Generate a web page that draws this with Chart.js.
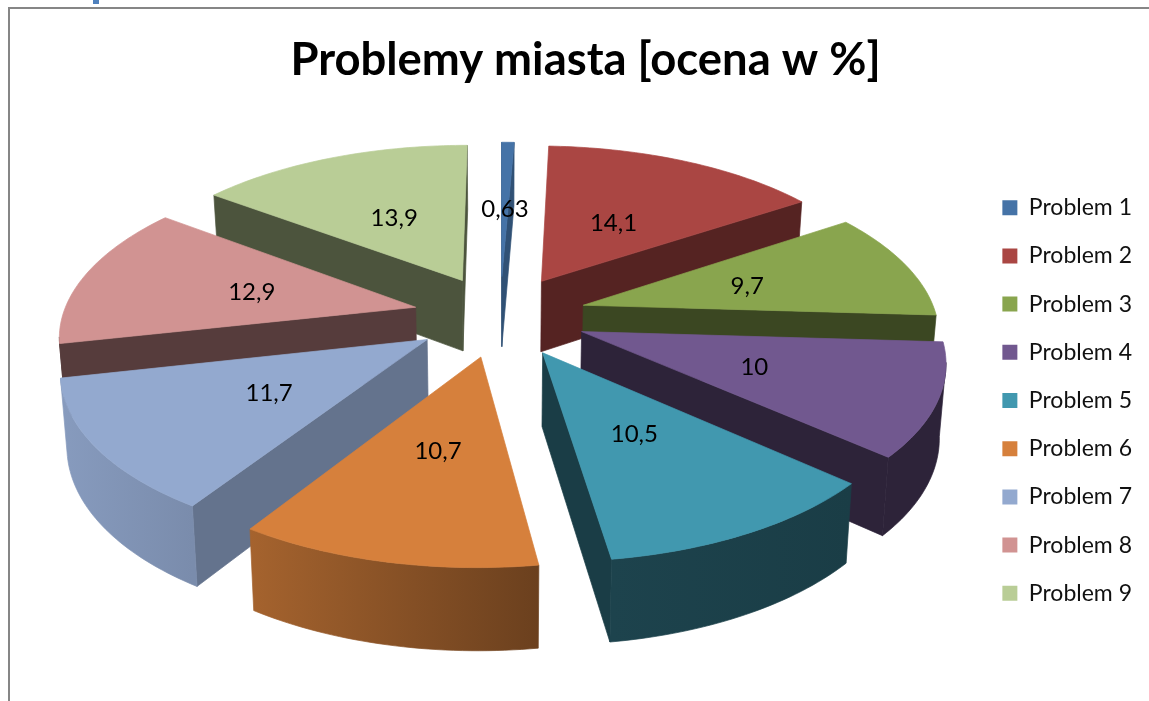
<!DOCTYPE html>
<html>
<head>
<meta charset="utf-8">
<title>Problemy miasta</title>
<script src="https://cdn.jsdelivr.net/npm/chart.js@4"></script>
<style>
  html, body { margin: 0; padding: 0; background: #fff; overflow: hidden; }
  #wrap { position: relative; width: 1149px; height: 701px; }
  #frame { position: absolute; left: 8px; top: 7px; right: 0; bottom: 0; border-left: 2px solid #868686; border-top: 2px solid #868686; }
  #heading { position: absolute; left: 93px; top: 0; width: 6px; height: 4px; background: #4f81bd; }
  canvas { position: absolute; left: 0; top: 0; }
</style>
</head>
<body>
<div id="wrap">
  <div id="heading"></div>
  <div id="frame"></div>
  <canvas id="chart" width="1149" height="701"></canvas>
</div>
<script>
const categories = ["Problem 1", "Problem 2", "Problem 3", "Problem 4", "Problem 5", "Problem 6", "Problem 7", "Problem 8", "Problem 9"];
const values = [0.63, 14.1, 9.7, 10, 10.5, 10.7, 11.7, 12.9, 13.9];
const colors = ["#4573a7", "#aa4643", "#89a54e", "#71588f", "#4198af", "#d6803c", "#93a9cf", "#d19392", "#b9cd96"];

// how dark the cut faces and rim of each slice are (fraction of slice colour)
const faceShade = [0.7, 0.5, 0.43, 0.4, 0.4, 0.5, 0.68, 0.41, 0.41];
const rimShade = [[0.7, 0.7], [0.5, 0.5], [0.43, 0.43], [0.4, 0.4], [0.4, 0.44], [0.5, 0.77], [0.83, 0.92], [0.41, 0.41], [0.41, 0.41]];
// label distance along the slice, as part of the radius
const labelAt = [0.48, 0.47, 0.5, 0.5, 0.48, 0.49, 0.5, 0.49, 0.49];

const FONT = "Lato, Carlito, sans-serif";
const TILT = 0.468;
const PERSPECTIVE = 0.15;
const DEPTH = 72;
const LIFT = 85;

function shade(hex, k) {
  const n = parseInt(hex.slice(1), 16);
  return `rgb(${Math.round((n >> 16) * k)},${Math.round(((n >> 8) & 255) * k)},${Math.round((n & 255) * k)})`;
}

function project(arc, u, v, down) {
  const f = 1 / (1 - PERSPECTIVE * v / arc.outerRadius);
  const squeeze = down ? 0.985 : 1;
  return {
    x: arc.x + u * f * squeeze,
    y: arc.y - LIFT + v * TILT * f + (down ? DEPTH * Math.pow(f, 0.7) : 0),
  };
}

function poly(ctx, pts, fill) {
  ctx.beginPath();
  pts.forEach((p, i) => (i ? ctx.lineTo(p.x, p.y) : ctx.moveTo(p.x, p.y)));
  ctx.closePath();
  ctx.fillStyle = fill;
  ctx.strokeStyle = fill;
  ctx.lineWidth = 0.7; // closes the hairline between neighbouring walls
  ctx.fill();
  ctx.stroke();
}

function sliceOutline(arc) {
  const mid = (arc.startAngle + arc.endAngle) / 2;
  const ox = Math.cos(mid) * arc.options.offset;
  const oy = Math.sin(mid) * arc.options.offset;
  const steps = Math.max(2, Math.ceil((arc.endAngle - arc.startAngle) / 0.02));
  const pts = [{ u: ox, v: oy }];
  for (let s = 0; s <= steps; s++) {
    const a = arc.startAngle + ((arc.endAngle - arc.startAngle) * s) / steps;
    pts.push({ u: ox + Math.cos(a) * arc.outerRadius, v: oy + Math.sin(a) * arc.outerRadius });
  }
  return pts;
}

function drawSlice(ctx, arc, i) {
  const pts = sliceOutline(arc);
  const top = pts.map((p) => project(arc, p.u, p.v, false));
  const bottom = pts.map((p) => project(arc, p.u, p.v, true));
  const n = pts.length;

  // the two cut faces, only when they look towards us
  if (top[1].x < top[0].x) poly(ctx, [top[0], top[1], bottom[1], bottom[0]], shade(colors[i], faceShade[i]));
  if (top[0].x < top[n - 1].x) poly(ctx, [top[n - 1], top[0], bottom[0], bottom[n - 1]], shade(colors[i], faceShade[i]));

  // the visible run of the rim, as one piece with a sideways gradient
  let first = -1;
  let last = -1;
  for (let k = 1; k < n - 1; k++) {
    if (top[k + 1].x < top[k].x) {
      if (first < 0) first = k;
      last = k + 1;
    }
  }
  if (first > 0) {
    const run = top.slice(first, last + 1).concat(bottom.slice(first, last + 1).reverse());
    const [from, to] = rimShade[i];
    const at = (k) => from + ((to - from) * (k - 1)) / (n - 2);
    const grad = ctx.createLinearGradient(top[first].x, 0, top[last].x, 0);
    grad.addColorStop(0, shade(colors[i], at(first)));
    grad.addColorStop(1, shade(colors[i], at(last)));
    poly(ctx, run, grad);
  }

  poly(ctx, top, colors[i]);
}

const pie3d = {
  id: "pie3d",
  afterLayout(chart) {
    chart.legend.left -= 7;
    chart.legend.right -= 7;
    chart.legend.top += 50;
    chart.legend.bottom += 50;
    chart.titleBlock.left += 3;
    chart.titleBlock.right += 3;
  },
  beforeDatasetDraw(chart, args) {
    const ctx = chart.ctx;
    const order = args.meta.data
      .map((arc, i) => ({ arc, i, depth: Math.sin((arc.startAngle + arc.endAngle) / 2) }))
      .sort((a, b) => a.depth - b.depth);
    order.forEach((o) => drawSlice(ctx, o.arc, o.i));
    ctx.save();
    ctx.font = `24px ${FONT}`;
    ctx.fillStyle = "#000";
    ctx.textAlign = "center";
    ctx.textBaseline = "middle";
    args.meta.data.forEach((arc, i) => {
      const mid = (arc.startAngle + arc.endAngle) / 2;
      const r = arc.options.offset + arc.outerRadius * labelAt[i];
      const p = project(arc, Math.cos(mid) * r, Math.sin(mid) * r, false);
      ctx.fillText(String(values[i]).replace(".", ","), p.x, p.y + 2);
    });
    ctx.restore();
    return false;
  },
};

new Chart(document.getElementById("chart"), {
  type: "pie",
  data: {
    labels: categories,
    datasets: [{ data: values, backgroundColor: colors, borderWidth: 0, offset: 87, radius: 353 }],
  },
  options: {
    responsive: false,
    animation: false,
    layout: { padding: { left: 16 } },
    plugins: {
      title: {
        display: true,
        text: "Problemy miasta [ocena w %]",
        color: "#000",
        font: { family: FONT, size: 45.4, weight: "bold" },
        padding: { top: 33, bottom: 13 },
      },
      legend: {
        position: "right",
        labels: {
          color: "#111",
          font: { family: FONT, size: 23 },
          boxWidth: 15,
          boxHeight: 15,
          padding: 25.2,
        },
      },
      tooltip: { enabled: false },
    },
  },
  plugins: [pie3d],
});
</script>
</body>
</html>
